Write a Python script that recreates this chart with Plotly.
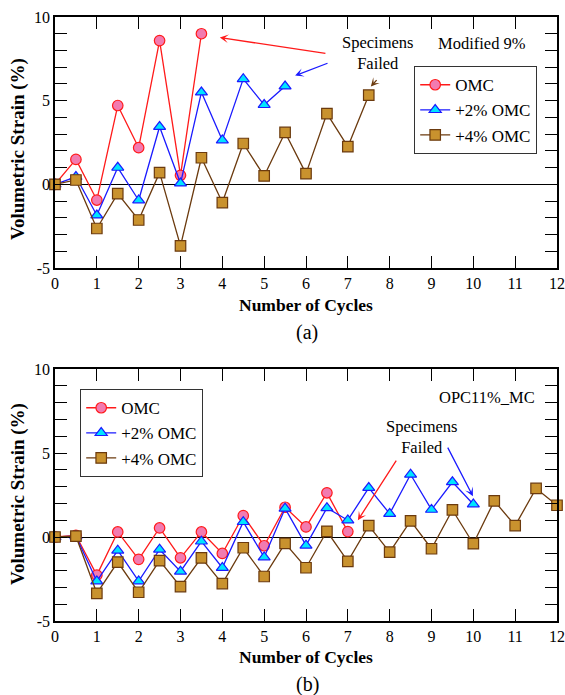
import plotly.graph_objects as go

# ---------------- data ----------------
cycles_a_omc = [0, 0.5, 1, 1.5, 2, 2.5, 3, 3.5]
strain_a_omc = [0, 1.49, -0.94, 4.71, 2.19, 8.59, 0.54, 9.0]

cycles_a_p2 = [0, 0.5, 1, 1.5, 2, 2.5, 3, 3.5, 4, 4.5, 5, 5.5]
strain_a_p2 = [0, 0.45, -1.85, 1.0, -0.95, 3.44, 0.06, 5.5, 2.64, 6.3, 4.75, 5.86]

cycles_a_p4 = [0, 0.5, 1, 1.5, 2, 2.5, 3, 3.5, 4, 4.5, 5, 5.5, 6, 6.5, 7, 7.5]
strain_a_p4 = [0, 0.26, -2.64, -0.56, -2.13, 0.7, -3.68, 1.59, -1.09, 2.44, 0.5, 3.1, 0.64, 4.23, 2.25, 5.33]

cycles_b_omc = [0, 0.5, 1, 1.5, 2, 2.5, 3, 3.5, 4, 4.5, 5, 5.5, 6, 6.5, 7]
strain_b_omc = [0, 0.1, -2.27, 0.3, -1.33, 0.54, -1.24, 0.3, -0.98, 1.27, -0.52, 1.77, 0.6, 2.63, 0.32]

cycles_b_p2 = [0, 0.5, 1, 1.5, 2, 2.5, 3, 3.5, 4, 4.5, 5, 5.5, 6, 6.5, 7, 7.5, 8, 8.5, 9, 9.5, 10]
strain_b_p2 = [0, 0.05, -2.63, -0.8, -2.63, -0.74, -2.05, -0.26, -1.83, 0.9, -1.2, 1.7, -0.5, 1.73, 1.0, 2.93,
               1.39, 3.72, 1.63, 3.27, 1.95]

cycles_b_p4 = [0, 0.5, 1, 1.5, 2, 2.5, 3, 3.5, 4, 4.5, 5, 5.5, 6, 6.5, 7, 7.5, 8, 8.5, 9, 9.5, 10, 10.5, 11,
               11.5, 12]
strain_b_p4 = [0, 0.05, -3.35, -1.49, -3.29, -1.41, -2.95, -1.24, -2.77, -0.64, -2.35, -0.38, -1.83, 0.34,
               -1.45, 0.68, -0.9, 0.96, -0.7, 1.61, -0.4, 2.15, 0.68, 2.89, 1.89]

series_names = ["OMC", "+2% OMC", "+4% OMC"]
x_tick_vals = list(range(0, 13))
y_tick_vals = list(range(-5, 11))
y_tick_text = [str(v) if v % 5 == 0 else "" for v in y_tick_vals]

# ---------------- styles ----------------
FONT = "Liberation Serif"
styles = [
    dict(line=dict(color="#FF1A1A", width=1.3),
         marker=dict(symbol="circle", size=10.5, color="#F27BB0", line=dict(color="#FF1A1A", width=1.2))),
    dict(line=dict(color="#1A1AFF", width=1.3),
         marker=dict(symbol="triangle-up", size=10.5, color="#00E5FF", line=dict(color="#1A1AFF", width=1.2))),
    dict(line=dict(color="#6B3A0E", width=1.3),
         marker=dict(symbol="square", size=10.5, color="#C9922E", line=dict(color="#6B3A0E", width=1.2))),
]

fig = go.Figure()

panel_a = [(cycles_a_omc, strain_a_omc), (cycles_a_p2, strain_a_p2), (cycles_a_p4, strain_a_p4)]
panel_b = [(cycles_b_omc, strain_b_omc), (cycles_b_p2, strain_b_p2), (cycles_b_p4, strain_b_p4)]

for i, (xs, ys) in enumerate(panel_a):
    fig.add_trace(go.Scatter(x=xs, y=ys, mode="lines+markers", name=series_names[i],
                             xaxis="x", yaxis="y", legend="legend", cliponaxis=False, **styles[i]))
for i, (xs, ys) in enumerate(panel_b):
    fig.add_trace(go.Scatter(x=xs, y=ys, mode="lines+markers", name=series_names[i],
                             xaxis="x2", yaxis="y2", legend="legend2", cliponaxis=False, **styles[i]))

W, H = 565, 695
xdom = [55 / W, 557 / W]
ydom_a = [1 - 268 / H, 1 - 17 / H]
ydom_b = [1 - 621 / H, 1 - 369 / H]

xax = dict(range=[0, 12], tickvals=x_tick_vals, ticks="inside", ticklen=12, tickwidth=1.3,
           tickcolor="black", showline=True, linecolor="black", linewidth=1.5, mirror="ticks",
           showgrid=False, zeroline=False, automargin=False,
           tickfont=dict(family=FONT, size=16, color="black"))
yax = dict(range=[-5, 10], tickvals=y_tick_vals, ticktext=y_tick_text, ticks="inside", ticklen=12,
           tickwidth=1.3, tickcolor="black", showline=True, linecolor="black", linewidth=1.5,
           mirror="ticks", showgrid=False, zeroline=True, zerolinecolor="black", zerolinewidth=1.3,
           automargin=False, tickfont=dict(family=FONT, size=16, color="black"))

legend_style = dict(bgcolor="white", bordercolor="#333333", borderwidth=1.2,
                    font=dict(family=FONT, size=17, color="black"), tracegroupgap=0,
                    xanchor="left", yanchor="top", itemwidth=30)

fig.update_layout(
    width=W, height=H, margin=dict(l=0, r=0, t=0, b=0, autoexpand=False),
    paper_bgcolor="white", plot_bgcolor="white",
    font=dict(family=FONT),
    xaxis=dict(domain=xdom, anchor="y", **xax),
    yaxis=dict(domain=ydom_a, anchor="x", **yax),
    xaxis2=dict(domain=xdom, anchor="y2", **xax),
    yaxis2=dict(domain=ydom_b, anchor="x2", **yax),
    legend=dict(x=414 / W, y=1 - 66 / H, **legend_style),
    legend2=dict(x=80 / W, y=1 - 389 / H, **legend_style),
    showlegend=True,
)

ann = []
tfont = dict(family=FONT, size=16.5, color="black")
C = dict(xanchor="center", yanchor="middle", showarrow=False)
# panel a texts
ann.append(dict(x=7.72, y=7.87, xref="x", yref="y", text="Specimens<br>Failed", font=tfont, **C))
ann.append(dict(x=10.2, y=8.4, xref="x", yref="y", text="Modified 9%", font=tfont, **C))
# panel b texts
ann.append(dict(x=8.77, y=5.95, xref="x2", yref="y2", text="Specimens<br>Failed", font=tfont, **C))
ann.append(dict(x=10.33, y=8.33, xref="x2", yref="y2", text="OPC11%_MC", font=tfont, **C))

# arrows
def arrow(xr, yr, x, y, ax, ay, color):
    return dict(x=x, y=y, ax=ax, ay=ay, xref=xr, yref=yr, axref=xr, ayref=yr, text="",
                showarrow=True, arrowhead=3, arrowsize=1.1, arrowwidth=1.3, arrowcolor=color)

ann.append(arrow("x", "y", 3.94, 8.77, 6.50, 7.81, "#FF1A1A"))
ann.append(arrow("x", "y", 5.74, 6.50, 6.55, 7.27, "#1A1AFF"))
ann.append(arrow("x", "y", 7.55, 5.84, 7.72, 6.32, "#6B3A0E"))
ann.append(arrow("x2", "y2", 7.24, 1.0, 8.18, 4.63, "#FF1A1A"))
ann.append(arrow("x2", "y2", 9.99, 2.43, 9.37, 5.41, "#1A1AFF"))

# axis titles and panel labels
xfont = dict(family=FONT, size=17.5, color="black")
yfont = dict(family=FONT, size=19, color="black")
ann.append(dict(x=306 / W, y=1 - 305 / H, xref="paper", yref="paper", text="<b>Number of Cycles</b>",
                font=xfont, **C))
ann.append(dict(x=306 / W, y=1 - 657 / H, xref="paper", yref="paper", text="<b>Number of Cycles</b>",
                font=xfont, **C))
ann.append(dict(x=18 / W, y=1 - 149 / H, xref="paper", yref="paper", text="<b>Volumetric Strain (%)</b>",
                textangle=-90, font=yfont, **C))
ann.append(dict(x=18 / W, y=1 - 494 / H, xref="paper", yref="paper", text="<b>Volumetric Strain (%)</b>",
                textangle=-90, font=yfont, **C))
ann.append(dict(x=307 / W, y=1 - 332 / H, xref="paper", yref="paper", text="(a)",
                font=dict(family=FONT, size=20, color="black"), **C))
ann.append(dict(x=307 / W, y=1 - 684 / H, xref="paper", yref="paper", text="(b)",
                font=dict(family=FONT, size=20, color="black"), **C))

fig.update_layout(annotations=ann)
fig.write_html("out.html", config={"displayModeBar": False},
               post_script="document.body.style.margin='0';document.body.style.overflow='hidden';")
